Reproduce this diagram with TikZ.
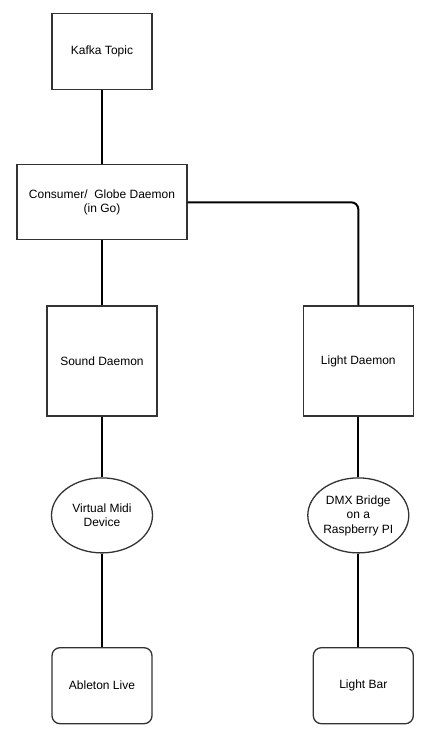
\documentclass[tikz,border=0pt]{standalone}
\usepackage{fontspec}
\setmainfont{Liberation Sans}
\usepackage{xcolor}
\usepackage{tikz}
\usetikzlibrary{arrows.meta, positioning, shapes.geometric}

\definecolor{edgegray}{HTML}{333333}

\begin{document}
\begin{tikzpicture}[
      x=1pt, y=-1pt,
      node distance=65pt and 145pt,
      every node/.style={font=\fontsize{12}{14.5}\selectfont, align=center, inner sep=2pt},
      box/.style={draw=edgegray, line width=1.3pt, fill=white, minimum width=100pt, minimum height=76pt},
      roundbox/.style={box, rounded corners=8pt},
      oval/.style={draw=edgegray, line width=1.3pt, fill=white, ellipse, minimum width=101pt, minimum height=75pt, inner sep=0pt},
      wire/.style={line width=2pt, black}
    ]
    \useasboundingbox (0,0) rectangle (438,739);

    \node[box] (kafka) at (102,51.5) {Kafka Topic};
    \node[box, minimum width=170pt, minimum height=75pt] (consumer) [below=74pt of kafka] {Consumer/~ Globe Daemon\\(in Go)};

    \node[box, minimum width=110pt, minimum height=110pt] (sound) [below=of consumer] {Sound Daemon};
    \node[box, minimum width=110pt, minimum height=110pt] (light) [right=of sound] {Light Daemon};

    \node[oval] (midi) [below=60.5pt of sound] {Virtual Midi\\Device};
    \node[oval] (dmx) [below=60.5pt of light] {DMX Bridge\\on a\\Raspberry PI};

    \node[roundbox] (ableton) [below=93.5pt of midi] {Ableton Live};
    \node[roundbox] (lightbar) [below=93.5pt of dmx, xshift=5pt] {Light Bar};

    \draw[wire] (kafka) -- (consumer);
    \draw[wire, rounded corners=7pt] (consumer.east) -| (light.north);
    \draw[wire] (consumer) -- (sound);
    \draw[wire] (sound) -- (midi);
    \draw[wire] (midi) -- (ableton);
    \draw[wire] (light) -- (dmx);
    \draw[wire] (dmx.south) -- (dmx.south |- lightbar.north);

    \end{tikzpicture}
\end{document}
